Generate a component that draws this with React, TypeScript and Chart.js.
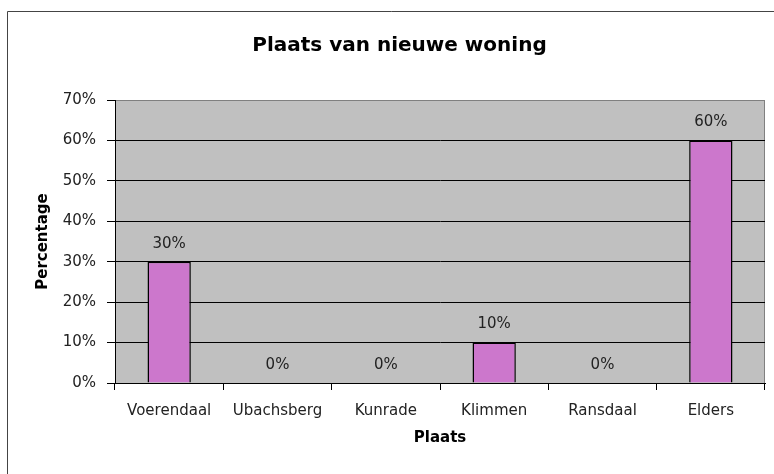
import React, { useEffect, useRef } from "react";
import { Chart, registerables } from "chart.js";

Chart.register(...registerables);

const categories = ["Voerendaal", "Ubachsberg", "Kunrade", "Klimmen", "Ransdaal", "Elders"];
const percentages = [30, 0, 0, 10, 0, 60];
const chartTitle = "Plaats van nieuwe woning";
const xTitle = "Plaats";
const yTitle = "Percentage";
const yMax = 70;
const yStep = 10;

const FONT = "'DejaVu Sans', Verdana, sans-serif";

const plotBgPlugin = {
  id: "plotBg",
  beforeDraw(chart: any) {
    const { ctx, chartArea } = chart;
    ctx.save();
    ctx.strokeStyle = "#444";
    ctx.lineWidth = 1;
    ctx.beginPath();
    ctx.moveTo(7.5, 480);
    ctx.lineTo(7.5, 11.5);
    ctx.lineTo(800, 11.5);
    ctx.stroke();
    ctx.fillStyle = "#c0c0c0";
    ctx.fillRect(chartArea.left, chartArea.top, chartArea.right - chartArea.left, chartArea.bottom - chartArea.top);
    ctx.strokeStyle = "#808080";
    ctx.strokeRect(chartArea.left + 0.5, chartArea.top + 0.5, chartArea.right - chartArea.left - 1, chartArea.bottom - chartArea.top);
    ctx.restore();
  },
};

const valueLabelPlugin = {
  id: "valueLabels",
  afterDatasetsDraw(chart: any) {
    const { ctx } = chart;
    const meta = chart.getDatasetMeta(0);
    ctx.save();
    ctx.font = `15px ${FONT}`;
    ctx.fillStyle = "#222";
    ctx.textAlign = "center";
    ctx.textBaseline = "middle";
    meta.data.forEach((bar: any, i: number) => {
      const v = chart.data.datasets[0].data[i];
      ctx.fillText(`${v}%`, bar.x, bar.y - 18);
    });
    ctx.restore();
  },
};

export default function App() {
  const ref = useRef<HTMLCanvasElement | null>(null);
  useEffect(() => {
    if (!ref.current) return;
    const chart = new Chart(ref.current, {
      type: "bar",
      data: {
        labels: categories,
        datasets: [
          {
            data: percentages,
            backgroundColor: "#cc77cc",
            borderColor: "#000",
            borderWidth: 1.5,
            barPercentage: 0.4,
            categoryPercentage: 1,
          },
        ],
      },
      plugins: [plotBgPlugin, valueLabelPlugin],
      options: {
        responsive: false,
        animation: false,
        layout: { padding: { left: 34, right: 9, top: 0, bottom: 15 } },
        plugins: {
          legend: { display: false },
          tooltip: { enabled: false },
          title: {
            display: true,
            text: chartTitle,
            color: "#000",
            font: { family: FONT, size: 20, weight: "bold" },
            padding: { top: 34, bottom: 42 },
          },
        },
        scales: {
          x: {
            afterFit(scale: any) {
              scale.height = 76;
            },
            grid: {
              display: true,
              drawOnChartArea: false,
              drawTicks: true,
              tickLength: 7,
              tickColor: "#000",
              offset: true,
            },
            border: { display: true, color: "#000" },
            ticks: {
              color: "#222",
              padding: 12,
              maxRotation: 0,
              font: { family: FONT, size: 15 },
            },
            title: {
              display: true,
              text: xTitle,
              color: "#000",
              font: { family: FONT, size: 15, weight: "bold" },
              padding: { top: 0, bottom: 12 },
            },
          },
          y: {
            min: 0,
            max: yMax,
            afterFit(scale: any) {
              scale.width = 81;
            },
            grid: {
              color: (c: any) => (c.tick && c.tick.value === yMax ? "#808080" : "#000"),
              tickColor: "#000",
              tickLength: 8,
              drawTicks: true,
            },
            border: { display: true, color: "#000" },
            ticks: {
              stepSize: yStep,
              color: "#222",
              padding: 11,
              font: { family: FONT, size: 15 },
              callback: (v: any) => `${v}%`,
            },
            title: {
              display: true,
              text: yTitle,
              color: "#000",
              font: { family: FONT, size: 15, weight: "bold" },
              padding: { top: 0, bottom: 0 },
            },
          },
        },
      },
    });
    return () => chart.destroy();
  }, []);
  return (
    <div style={{ position: "fixed", left: 0, top: 0, width: 774, height: 474, background: "#fff" }}>
      <canvas ref={ref} width={774} height={474} />
    </div>
  );
}
